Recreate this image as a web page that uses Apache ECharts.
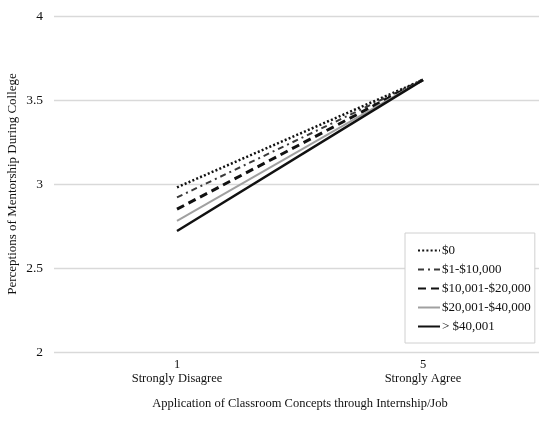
<!DOCTYPE html>
<html>
<head>
<meta charset="utf-8">
<script src="https://cdn.jsdelivr.net/npm/echarts@6/dist/echarts.min.js"></script>
<style>
  html, body { margin: 0; padding: 0; background: #fff; }
  #chart { width: 539px; height: 421px; }
</style>
</head>
<body>
<div id="chart"></div>
<script>
// Response scale end points on the horizontal axis
const categories = ['1\nStrongly Disagree', '5\nStrongly Agree'];

// Income groups
const groupNames = ['$0', '$1-$10,000', '$10,001-$20,000', '$20,001-$40,000', '> $40,001'];

// Predicted mentorship perception at each end point, per income group
const valuesZero     = [2.98, 3.62];
const values1to10k   = [2.92, 3.62];
const values10to20k  = [2.85, 3.62];
const values20to40k  = [2.78, 3.62];
const valuesOver40k  = [2.72, 3.62];

const yTicks = { min: 2, max: 4, interval: 0.5 };

const seriesValues = [valuesZero, values1to10k, values10to20k, values20to40k, valuesOver40k];

const lineLooks = [
  { color: '#111', width: 2.5, type: [2, 2.2] },
  { color: '#3a3a3a', width: 2, type: [6, 4, 2, 4] },
  { color: '#111', width: 3, type: [8, 5] },
  { color: '#a0a0a0', width: 2, type: 'solid' },
  { color: '#111', width: 2.5, type: 'solid' }
];

const serif = '"Liberation Serif", "DejaVu Serif", serif';

const chart = echarts.init(document.getElementById('chart'));
chart.setOption({
  animation: false,
  backgroundColor: '#fff',
  grid: { left: 54, right: -7, top: 16, bottom: 69, containLabel: false, outerBoundsMode: 'none' },
  legend: {
    orient: 'vertical',
    left: 405,
    top: 233,
    padding: [11, 4, 10, 12],
    itemGap: 6,
    itemWidth: 22,
    itemHeight: 13,
    backgroundColor: '#fff',
    borderColor: '#d0d0d0',
    borderWidth: 1,
    borderRadius: 0,
    itemStyle: { color: 'rgba(0,0,0,0)', borderColor: 'rgba(0,0,0,0)', borderWidth: 0 },
    textStyle: { fontFamily: serif, fontSize: 13, color: '#111', padding: [0, 0, 0, -3] },
    data: groupNames
  },
  xAxis: {
    type: 'category',
    data: categories,
    boundaryGap: true,
    axisLine: { show: false },
    axisTick: { show: false },
    splitLine: { show: false },
    axisLabel: {
      fontFamily: serif, fontSize: 12.5, color: '#111',
      lineHeight: 14, margin: 6, interval: 0
    },
    name: 'Application of Classroom Concepts through Internship/Job',
    nameLocation: 'middle',
    nameGap: 45,
    nameMoveOverlap: false,
    nameTextStyle: { fontFamily: serif, fontSize: 12.5, color: '#111' }
  },
  yAxis: {
    type: 'value',
    min: yTicks.min,
    max: yTicks.max,
    interval: yTicks.interval,
    axisLine: { show: false },
    axisTick: { show: false },
    splitLine: { show: true, lineStyle: { color: '#d9d9d9', width: 1.3 } },
    axisLabel: { fontFamily: serif, fontSize: 13.5, color: '#111', margin: 11 },
    name: 'Perceptions of Mentorship During College',
    nameLocation: 'middle',
    nameRotate: 90,
    nameGap: 35,
    nameMoveOverlap: false,
    nameTextStyle: { fontFamily: serif, fontSize: 13, color: '#111' }
  },
  series: groupNames.map((name, i) => ({
    name: name,
    type: 'line',
    data: seriesValues[i],
    symbol: 'none',
    z: 3,
    lineStyle: {
      color: lineLooks[i].color,
      width: lineLooks[i].width,
      type: lineLooks[i].type,
      cap: 'butt'
    },
    itemStyle: { color: lineLooks[i].color }
  }))
});
</script>
</body>
</html>
